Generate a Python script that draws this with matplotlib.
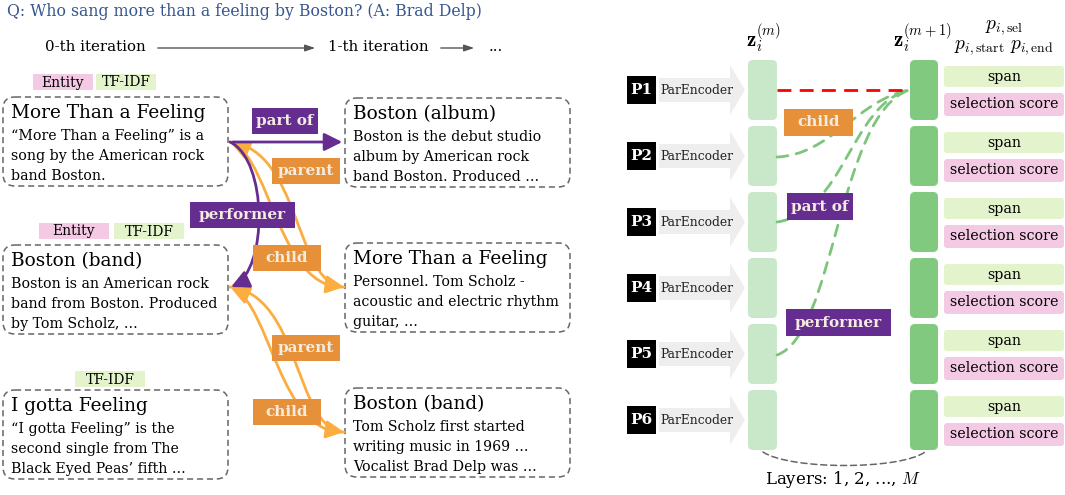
import matplotlib
matplotlib.use('Agg')
import matplotlib.pyplot as plt
from matplotlib.patches import FancyBboxPatch, Rectangle, Polygon, FancyArrowPatch
from matplotlib.path import Path

plt.rcParams['font.family'] = ['DejaVu Serif']
plt.rcParams['mathtext.fontset'] = 'cm'

# ---- data ----
question = "Q: Who sang more than a feeling by Boston? (A: Brad Delp)"
iterations = ["0-th iteration", "1-th iteration", "..."]

left_titles = ["More Than a Feeling", "Boston (band)", "I gotta Feeling"]
left_bodies = [
    ["\u201cMore Than a Feeling\u201d is a", "song by the American rock", "band Boston."],
    ["Boston is an American rock", "band from Boston. Produced", "by Tom Scholz, ..."],
    ["\u201cI gotta Feeling\u201d is the", "second single from The", "Black Eyed Peas\u2019 fifth ..."],
]
left_tags = [["Entity", "TF-IDF"], ["Entity", "TF-IDF"], ["TF-IDF"]]

right_titles = ["Boston (album)", "More Than a Feeling", "Boston (band)"]
right_bodies = [
    ["Boston is the debut studio", "album by American rock", "band Boston. Produced ..."],
    ["Personnel. Tom Scholz -", "acoustic and electric rhythm", "guitar, ..."],
    ["Tom Scholz first started", "writing music in 1969 ...", "Vocalist Brad Delp was ..."],
]

edge_labels = ["part of", "parent", "performer", "child", "parent", "child"]
edge_kinds = ["purple", "orange", "purple", "orange", "orange", "orange"]

passages = ["P1", "P2", "P3", "P4", "P5", "P6"]
encoder_name = "ParEncoder"
head_names = ["span", "selection score"]
graph_edges = ["child", "part of", "performer"]   # P2, P3, P5 -> P1
graph_edge_kind = ["orange", "purple", "purple"]

# ---- styles ----
QCOL = '#35568f'
PURPLE = '#652d90'
ORANGE_LBL = '#e6913a'
ORANGE_LN = '#fbad3f'
LBL_TXT = '#f4ece0'
PINK = '#f4c9e4'
LGREEN = '#e3f3cb'
ZM = '#c9e7c9'
ZM1 = '#80c97f'
GDASH = '#7dc47d'
tag_col = {'Entity': PINK, 'TF-IDF': LGREEN}
kind_col = {'purple': PURPLE, 'orange': ORANGE_LBL}

fig = plt.figure(figsize=(10.65, 4.95), dpi=100)
ax = fig.add_axes([0, 0, 1, 1])
ax.set_xlim(0, 1065)
ax.set_ylim(495, 0)
ax.axis('off')

ax.text(7, 12, question, color=QCOL, fontsize=11.3, va='center', ha='left')

# iteration header
ax.text(45, 47, iterations[0], fontsize=10.8, va='center', ha='left')
ax.text(328, 47, iterations[1], fontsize=10.8, va='center', ha='left')
ax.text(489, 47, iterations[2], fontsize=10.8, va='center', ha='left')
for x0, x1 in [(155, 318), (438, 477)]:
    ax.annotate('', xy=(x1, 48), xytext=(x0, 48),
                arrowprops=dict(arrowstyle='-|>,head_length=0.6,head_width=0.2',
                                color='#555555', lw=1, mutation_scale=10))


def doc_box(x, y, title, body):
    ax.add_patch(FancyBboxPatch((x, y), 225, 89, boxstyle='round,pad=0,rounding_size=12',
                                fc='none', ec='#666666', lw=1.1, ls=(0, (4, 2.5))))
    ax.text(x + 8, y + 16, title, fontsize=13.3, va='center', ha='left')
    for k, line in enumerate(body):
        ax.text(x + 8, y + 39 + 20 * k, line, fontsize=10.2, va='center', ha='left')


left_tops = [97, 245, 390]
right_tops = [98, 243, 388]
tag_x = [[33, 96], [39, 114], [75]]
tag_y = [74, 223, 371]
for i in range(3):
    doc_box(3, left_tops[i], left_titles[i], left_bodies[i])
    doc_box(345, right_tops[i], right_titles[i], right_bodies[i])
    for t, tx in zip(left_tags[i], tag_x[i]):
        w = 60 if i == 0 else 70
        ax.add_patch(Rectangle((tx, tag_y[i]), w, 16, fc=tag_col[t], ec='none'))
        ax.text(tx + w / 2, tag_y[i] + 8.5, t, fontsize=10, va='center', ha='center')


def curve(pts, color, lw=2.0, arrow=True, ls='-'):
    path = Path(pts, [Path.MOVETO, Path.CURVE4, Path.CURVE4, Path.CURVE4])
    style = '-|>,head_length=0.9,head_width=0.45' if arrow else '-'
    ax.add_patch(FancyArrowPatch(path=path, arrowstyle=style, mutation_scale=12,
                                 color=color, lw=lw, ls=ls))


# left graph edges
ax.annotate('', xy=(345, 142), xytext=(230, 142),
            arrowprops=dict(arrowstyle='-|>,head_length=0.9,head_width=0.45',
                            color=PURPLE, lw=2, mutation_scale=12))
for dy in [0, 145]:
    curve([(230, 142 + dy), (300, 150 + dy), (295, 280 + dy), (344, 287 + dy)], ORANGE_LN)
    curve([(344, 287 + dy), (280, 290 + dy), (270, 160 + dy), (231, 143 + dy)], ORANGE_LN)
curve([(230, 142), (268, 160), (268, 270), (231, 287)], PURPLE)

lbl_boxes = [(252, 108, 66), (272, 158, 68), (190, 202, 105), (253, 245, 68), (272, 335, 68), (253, 399, 68)]
for (bx, by, bw), t, k in zip(lbl_boxes, edge_labels, edge_kinds):
    ax.add_patch(Rectangle((bx, by), bw, 26, fc=kind_col[k], ec='none'))
    ax.text(bx + bw / 2, by + 13, t, fontsize=11, fontweight='bold', color=LBL_TXT,
            va='center', ha='center')

# ---- right part ----
rows = [90 + 66 * i for i in range(6)]
ax.text(763, 38, r'$\mathbf{z}_i^{(m)}$', fontsize=15, va='center', ha='center')
ax.text(922, 38, r'$\mathbf{z}_i^{(m+1)}$', fontsize=15, va='center', ha='center')
ax.text(1004, 28, r'$p_{i,\mathrm{sel}}$', fontsize=14, va='center', ha='center')
ax.text(1004, 48, r'$p_{i,\mathrm{start}}\ p_{i,\mathrm{end}}$', fontsize=14, va='center', ha='center')

for i, yc in enumerate(rows):
    ax.add_patch(Rectangle((627, yc - 14), 29, 28, fc='black', ec='none'))
    ax.text(641.5, yc, passages[i], color='white', fontsize=11, fontweight='bold',
            va='center', ha='center')
    ax.add_patch(Polygon([(659, yc - 12), (730, yc - 12), (730, yc - 25), (745, yc),
                          (730, yc + 25), (730, yc + 12), (659, yc + 12)],
                         closed=True, fc='#eeeeee', ec='none'))
    ax.text(660, yc, encoder_name, fontsize=8.8, color='#222222', va='center', ha='left')
    ax.add_patch(FancyBboxPatch((748, yc - 30), 29, 60, boxstyle='round,pad=0,rounding_size=5',
                                fc=ZM, ec='none'))
    ax.add_patch(FancyBboxPatch((910, yc - 30), 28, 60, boxstyle='round,pad=0,rounding_size=5',
                                fc=ZM1, ec='none'))
    ax.add_patch(FancyBboxPatch((944, yc - 24), 120, 21, boxstyle='round,pad=0,rounding_size=3',
                                fc=LGREEN, ec='none'))
    ax.add_patch(FancyBboxPatch((944, yc + 3), 120, 23, boxstyle='round,pad=0,rounding_size=3',
                                fc=PINK, ec='none'))
    ax.text(1004, yc - 13.5, head_names[0], fontsize=10.3, va='center', ha='center')
    ax.text(1004, yc + 14.5, head_names[1], fontsize=10.3, va='center', ha='center')

# message passing edges into P1
ax.plot([777, 909], [90, 90], color='#ff0000', lw=2, ls=(0, (5, 3)))
gpaths = [
    [(777, 157), (830, 155), (858, 100), (909, 90)],
    [(777, 222), (845, 212), (850, 105), (909, 90)],
    [(777, 355), (835, 335), (838, 115), (909, 90)],
]
for p in gpaths:
    curve(p, GDASH, lw=2, arrow=False, ls=(0, (4, 3)))

g_boxes = [(784, 109, 69), (787, 193, 66), (786, 309, 105)]
for (bx, by, bw), t, k in zip(g_boxes, graph_edges, graph_edge_kind):
    ax.add_patch(Rectangle((bx, by), bw, 27, fc=kind_col[k], ec='none'))
    ax.text(bx + bw / 2, by + 13.5, t, fontsize=11, fontweight='bold', color=LBL_TXT,
            va='center', ha='center')

curve([(763, 452), (790, 470), (900, 470), (925, 452)], '#666666', lw=1.1, arrow=False,
      ls=(0, (4, 2.5)))
ax.text(843, 480, r'Layers: 1, 2, ..., $M$', fontsize=12, va='center', ha='center')

plt.savefig('out.png', dpi=100)
